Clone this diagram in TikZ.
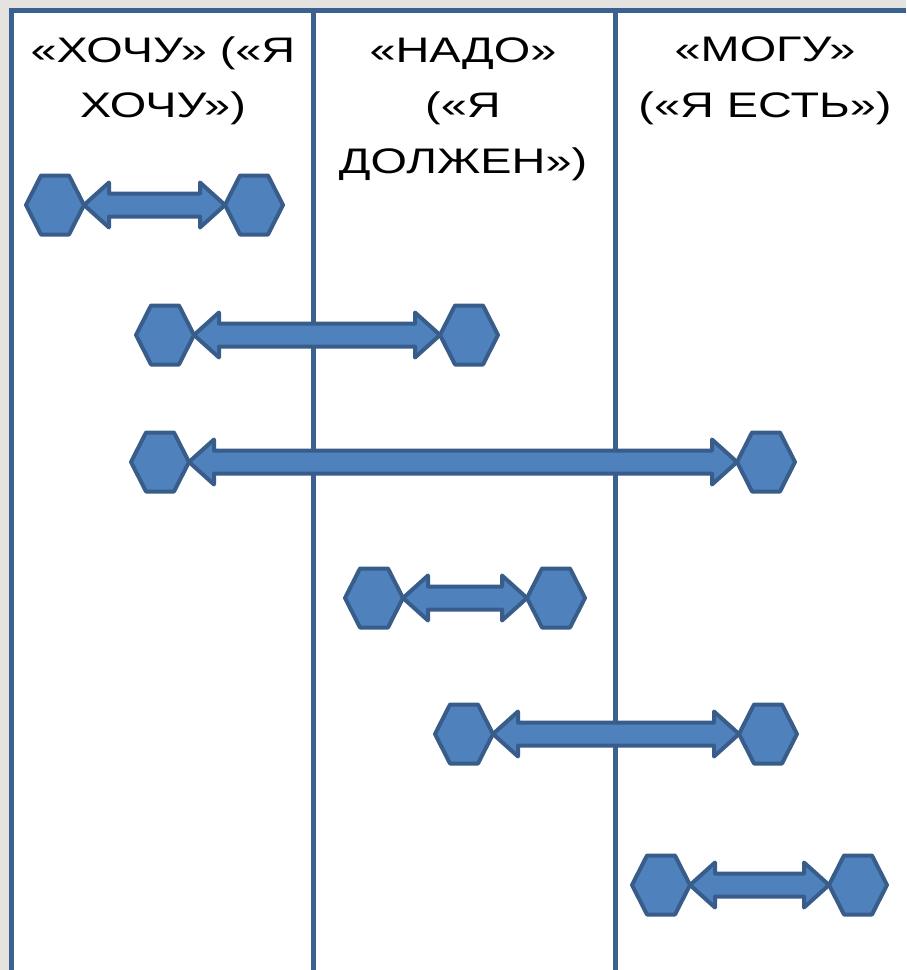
\documentclass[tikz,border=0pt]{standalone}
\usepackage{fontspec}
\setmainfont{Liberation Sans}[FakeStretch=1.32]
\usetikzlibrary{calc}
\definecolor{hexfill}{HTML}{4F81BD}
\definecolor{hexline}{HTML}{385D8A}
\definecolor{framecol}{HTML}{3B6190}
\definecolor{bgstone}{HTML}{E4E3E0}
\newcommand\hexat[1]{\draw[shapestyle] (#1.west) -- ([xshift=-14pt]#1.north) -- ([xshift=14pt]#1.north) -- (#1.east) -- ([xshift=14pt]#1.south) -- ([xshift=-14pt]#1.south) -- cycle;}
\newcommand\dblarrow[2]{\draw[shapestyle] let \p1=(#1.east), \p2=(#2.west) in
  (\x1,\y1) -- (\x1+25pt,\y1+22.5pt) -- (\x1+25pt,\y1+11.5pt) -- (\x2-25pt,\y1+11.5pt) -- (\x2-25pt,\y1+22.5pt)
  -- (\x2,\y2) -- (\x2-25pt,\y1-22.5pt) -- (\x2-25pt,\y1-11.5pt) -- (\x1+25pt,\y1-11.5pt) -- (\x1+25pt,\y1-22.5pt) -- cycle;}
\begin{document}
\begin{tikzpicture}[x=1pt,y=-1pt,
  hexnode/.style={minimum width=58pt,minimum height=59pt,inner sep=0pt,outer sep=0pt},
  shapestyle/.style={fill=hexfill,draw=hexline,line width=4pt,line join=round},
  gridline/.style={draw=framecol,line width=5pt},
  headtext/.style={font=\fontsize{35.5}{55.5}\selectfont,align=center,anchor=base,inner sep=0pt}]
\useasboundingbox (0,0) rectangle (906,970);
\fill[bgstone] (0,0) rectangle (906,970);
\fill[white] (11,10) rectangle (906,970);
\draw[gridline] (11,10.5) -- (906,10.5);
\draw[gridline] (11,8) -- (11,970);
\draw[gridline] (313,10) -- (313,970);
\draw[gridline] (615,10) -- (615,970);

% base anchor of a multi-line node is the baseline of its last line
\node[headtext] (t1) at (163,117.5) {«ХОЧУ» («Я\\ХОЧУ»)};
\node[headtext] (t2) at (463,173) {«НАДО»\\(«Я\\ДОЛЖЕН»)};
\node[headtext] (t3) at (765,117) {«МОГУ»\\(«Я ЕСТЬ»)};

\node[hexnode] (a1) at (55,205) {};
\node[hexnode] (b1) at (254,205) {};
\node[hexnode] (a2) at (165,335) {};
\node[hexnode] (b2) at (469,335) {};
\node[hexnode] (a3) at (160,462) {};
\node[hexnode] (b3) at (766,462) {};
\node[hexnode] (a4) at (374,598) {};
\node[hexnode] (b4) at (556,598) {};
\node[hexnode] (a5) at (464,734) {};
\node[hexnode] (b5) at (768,734) {};
\node[hexnode] (a6) at (661,885) {};
\node[hexnode] (b6) at (858,885) {};

\foreach \i in {1,...,6}{\dblarrow{a\i}{b\i}}
\foreach \i in {1,...,6}{\hexat{a\i}\hexat{b\i}}
\end{tikzpicture}
\end{document}
